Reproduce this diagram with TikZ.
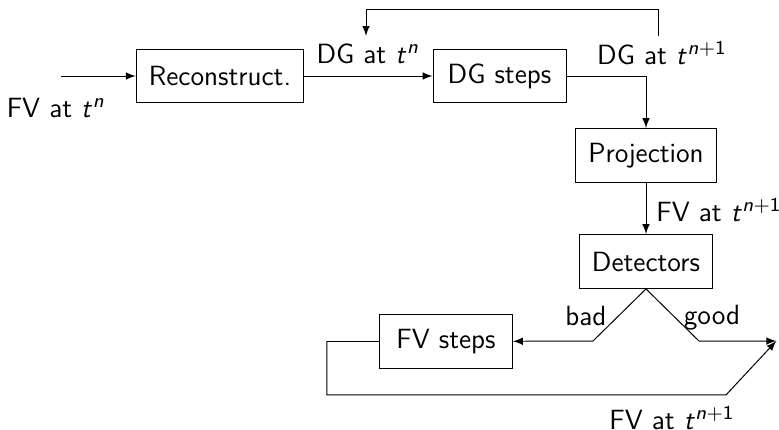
\documentclass[tikz,border=0pt]{standalone}
\usepackage{amsmath}
\usepackage{tikz}
\usetikzlibrary{calc}
\usetikzlibrary{arrows}
\usetikzlibrary{positioning}
\renewcommand{\familydefault}{\sfdefault}
\DeclareMathAlphabet{\mathsfsl}{OT1}{cmss}{m}{sl}
\newcommand{\tlev}[1]{$\mathsfsl{t}^{#1}$}

\begin{document}
\begin{tikzpicture}[>=latex,
        every node/.style={font=\fontsize{11.3}{13.5}\selectfont},
        block/.style={draw, minimum width=1.9cm, minimum height=0.77cm, inner sep=0.18cm}]
            \useasboundingbox (0,0) rectangle (11.129,6.143);
            % boxes
            \node[block] (recon) at ( 3.143, 5.057) {Reconstruct.};
            \node[block] (dg)    at ( 7.136, 5.057) {DG steps};
            \node[block] (proj)  at ( 9.229, 3.921) {Projection};
            \node[block] (det)   at ( 9.229, 2.407) {Detectors};
            \node[block] (fv)    at ( 6.371, 1.264) {FV steps};
            % free ends and corners
            \coordinate (in)     at ( 0.871, 5.057);
            \coordinate (fbtop)  at ( 9.414, 5.629);
            \coordinate (fbend)  at ( 5.229, 5.629);
            \coordinate (badc)   at ( 8.471, 1.271);
            \coordinate (goodc)  at ( 9.986, 1.271);
            \coordinate (out)    at (11.090, 1.271);
            \coordinate (loopl)  at ( 4.671, 0.500);
            \coordinate (loopr)  at (10.371, 0.500);
            % labels
            \node (lfvn)   at ( 0.800, 4.600) {FV at \tlev{\mathsfsl{n}}};
            \node (ldgn)   at ( 5.257, 5.371) {DG at \tlev{\mathsfsl{n}}};
            \node (ldgn1)  at ( 9.457, 5.386) {DG at \tlev{\mathsfsl{n}+\mathsf{1}}};
            \node (lfvn1)  at (10.271, 3.143) {FV at \tlev{\mathsfsl{n}+\mathsf{1}}};
            \node (lbad)   at ( 8.371, 1.629) {bad};
            \node (lgood)  at (10.171, 1.600) {good};
            \node (lfvout) at ( 9.600, 0.171) {FV at \tlev{\mathsfsl{n}+\mathsf{1}}};
            % connectors
            \draw[->] (in) -- (recon);
            \draw[->] (recon) -- (dg);
            \draw[->] (fbtop) -- ++(0,0.385) -| (fbend);
            \draw[->] (dg) -| (proj);
            \draw[->] (proj) -- (det);
            \draw[->] (det.south) -- (badc) -- (fv);
            \draw[->] (det.south) -- (goodc) -- (out);
            \draw[->] (fv.west) -| (loopl) -- (loopr) -- (out);
        \end{tikzpicture}
\end{document}
